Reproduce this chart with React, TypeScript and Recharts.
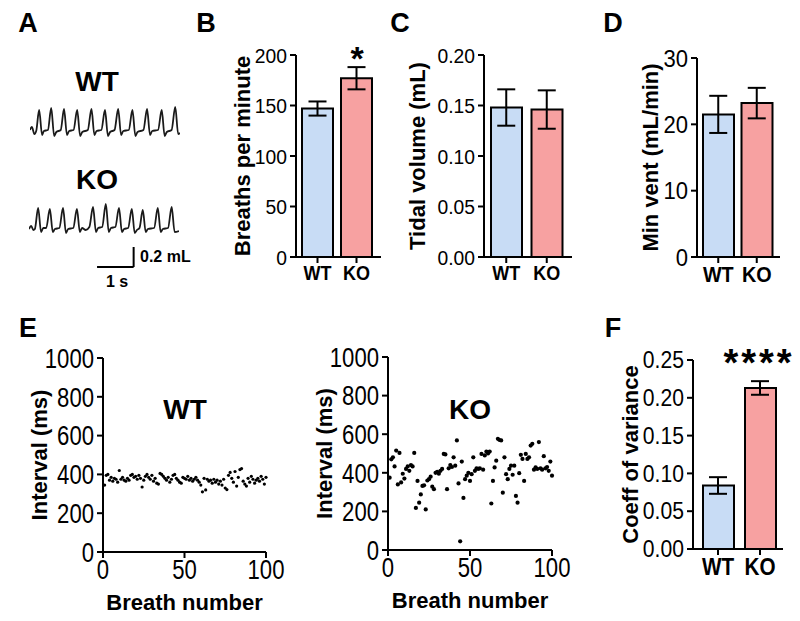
import React from 'react'
import {
  ComposedChart,
  Bar,
  Cell,
  Scatter,
  ErrorBar,
  XAxis,
  YAxis,
  ScatterChart,
  LineChart,
  Line,
  ReferenceLine,
} from 'recharts'

// ---- data ----
const groups = ['WT', 'KO']
const groupColors = ['#c8dcf5', '#f7a1a1']

const bpmMean = [147, 177]
const bpmSem = [7, 11]
const tidalMean = [0.148, 0.146]
const tidalSem = [0.018, 0.019]
const minVentMean = [21.5, 23.2]
const minVentSem = [2.8, 2.3]
const cvMean = [0.084, 0.213]
const cvSem = [0.011, 0.009]

// panel A traces: [time (s), volume (mL)]
const wtTrace = [
  [0.0, 0.02], [0.05, 0.05], [0.12, -0.02], [0.17, 0.01], [0.25, 0.22], [0.33, -0.03], [0.38, 0.01],
  [0.49, 0.02], [0.58, 0.24], [0.66, -0.04], [0.72, 0.0], [0.84, 0.02], [0.93, 0.23], [1.01, -0.03],
  [1.07, 0.01], [1.19, 0.02], [1.29, 0.22], [1.37, -0.04], [1.43, 0.0], [1.58, 0.02], [1.68, 0.23],
  [1.76, -0.03], [1.82, 0.01], [1.95, 0.02], [2.05, 0.22], [2.13, -0.04], [2.19, 0.0], [2.31, 0.02],
  [2.41, 0.23], [2.49, -0.03], [2.55, 0.01], [2.7, 0.02], [2.8, 0.22], [2.88, -0.04], [2.94, 0.0],
  [3.1, 0.02], [3.2, 0.23], [3.28, -0.03], [3.34, 0.01], [3.5, 0.02], [3.6, 0.22], [3.68, -0.04],
  [3.74, 0.0], [3.87, 0.02], [3.97, 0.25], [4.05, -0.02], [4.1, -0.01],
]
const koTrace = [
  [0.0, 0.01], [0.06, 0.04], [0.12, 0.0], [0.16, 0.01], [0.25, 0.22], [0.33, -0.02], [0.39, 0.02],
  [0.47, 0.02], [0.57, 0.21], [0.65, -0.02], [0.71, 0.01], [0.83, 0.02], [0.93, 0.22], [1.01, -0.03],
  [1.07, 0.01], [1.21, 0.02], [1.31, 0.21], [1.39, -0.02], [1.45, 0.02], [1.55, 0.0], [1.65, 0.03],
  [1.75, 0.23], [1.83, -0.02], [1.89, 0.02], [2.0, 0.03], [2.1, 0.26], [2.18, -0.02], [2.24, 0.02],
  [2.36, 0.03], [2.46, 0.22], [2.54, -0.02], [2.6, 0.01], [2.71, 0.02], [2.81, 0.21], [2.89, -0.03],
  [2.95, 0.0], [3.02, 0.02], [3.11, 0.2], [3.19, -0.02], [3.25, 0.01], [3.42, 0.02], [3.52, 0.22],
  [3.6, -0.02], [3.66, 0.01], [3.8, 0.02], [3.9, 0.23], [3.98, -0.02], [4.1, -0.01],
]

// panel E: breath-to-breath interval (ms), breaths 1..100
const wtIntervals = [
  345, 395, 400, 370, 385, 365, 380, 375, 360, 420, 375, 385, 370, 365, 380, 370, 395, 400, 385, 390,
  375, 395, 380, 335, 370, 390, 400, 385, 375, 395, 365, 380, 355, 350, 405, 400, 390, 380, 370, 385,
  360, 375, 395, 400, 380, 370, 360, 355, 385, 380, 375, 390, 370, 380, 365, 375, 385, 370, 360, 345,
  310, 380, 320, 375, 365, 370, 355, 375, 360, 370, 350, 365, 345, 375, 330, 322, 395, 410, 380, 360,
  415, 340, 385, 425, 430, 365, 350, 340, 380, 360, 390, 375, 355, 370, 380, 365, 390, 375, 350, 385,
]
const koIntervals = [
  375, 470, 480, 433, 515, 340, 503, 350, 395, 370, 420, 433, 410, 440, 433, 503, 218, 358, 245, 288,
  332, 335, 210, 360, 367, 380, 328, 315, 400, 405, 395, 410, 420, 498, 495, 315, 423, 440, 430, 480,
  437, 568, 345, 45, 458, 270, 367, 385, 400, 358, 393, 480, 410, 423, 420, 423, 498, 416, 490, 510,
  500, 510, 241, 358, 428, 463, 576, 570, 568, 297, 480, 393, 367, 420, 437, 390, 437, 280, 245, 398,
  493, 472, 358, 498, 472, 480, 541, 550, 416, 428, 420, 559, 423, 416, 486, 423, 430, 410, 458, 385,
]

const font = "'Liberation Sans', Arial, sans-serif"
const axisLine = { stroke: '#000', strokeWidth: 2 }
const titleStyle = { textAnchor: 'middle', fontFamily: font, fontWeight: 700, fontSize: 22, fill: '#000' }

// tick text squeezed horizontally, like the condensed face in the figure
function NarrowTick({ x, y, payload, textAnchor, axis, size, sx, weight, fmt }: any) {
  const label = fmt ? fmt(payload.value) : payload.value
  return (
    <g transform={`translate(${x},${y}) scale(${sx},1)`}>
      <text
        x={0}
        y={0}
        dy={axis === 'y' ? '0.36em' : '0.72em'}
        textAnchor={textAnchor}
        fill="#000"
        fontFamily={font}
        fontSize={size}
        fontWeight={weight}
      >
        {label}
      </text>
    </g>
  )
}

function barRows(mean: number[], sem: number[]) {
  return groups.map((g, i) => ({ group: g, mean: mean[i], sem: sem[i] }))
}

function Text({ x, y, size, children, anchor = 'middle', spacing = 0 }: any) {
  return (
    <div
      style={{
        position: 'absolute',
        left: anchor === 'middle' ? x - 100 : x,
        top: y - size * 0.6,
        width: anchor === 'middle' ? 200 : 'auto',
        textAlign: anchor === 'middle' ? 'center' : 'left',
        fontFamily: font,
        fontWeight: 700,
        fontSize: size,
        letterSpacing: spacing,
        lineHeight: `${size * 1.2}px`,
        color: '#000',
        whiteSpace: 'nowrap',
      }}
    >
      {children}
    </div>
  )
}

function BarPanel({
  left, top, width, height, yWidth, marginTop, rows, domain, ticks, fmt, label, labelOffset, padding, tickSize, catSize,
}: any) {
  return (
    <div style={{ position: 'absolute', left, top }}>
      <ComposedChart width={width} height={height} data={rows} margin={{ top: marginTop, right: 0, bottom: 0, left: 0 }}>
        <XAxis
          dataKey="group"
          axisLine={axisLine}
          tickLine={axisLine}
          tickSize={6}
          tickMargin={3}
          tick={(p: any) => <NarrowTick {...p} axis="x" size={catSize} sx={0.9} weight={700} />}
          height={34}
          padding={padding}
        />
        <YAxis
          width={yWidth}
          domain={domain}
          ticks={ticks}
          axisLine={axisLine}
          tickLine={axisLine}
          tickSize={6}
          tickMargin={3}
          tick={(p: any) => <NarrowTick {...p} axis="y" size={tickSize} sx={0.92} weight={400} fmt={fmt} />}
          interval={0}
          label={{ value: label, angle: -90, position: 'insideLeft', offset: labelOffset, style: titleStyle }}
        />
        <Bar dataKey="mean" barSize={31} stroke="#000" strokeWidth={2} isAnimationActive={false}>
          {rows.map((r: any, i: number) => (
            <Cell key={r.group} fill={groupColors[i]} />
          ))}
        </Bar>
        <Scatter dataKey="mean" isAnimationActive={false} shape={() => <g />}>
          <ErrorBar dataKey="sem" width={9} stroke="#000" strokeWidth={2} direction="y" />
        </Scatter>
      </ComposedChart>
    </div>
  )
}

function ScatterPanel({ left, top, width, height, data, r, labelOffset }: any) {
  return (
    <div style={{ position: 'absolute', left, top }}>
      <ScatterChart width={width} height={height} margin={{ top: 17, right: 20, bottom: 10, left: 0 }}>
        <XAxis
          type="number"
          dataKey="breath"
          domain={[0, 100]}
          ticks={[0, 50, 100]}
          axisLine={axisLine}
          tickLine={axisLine}
          tickSize={6}
          tickMargin={2}
          tick={(p: any) => <NarrowTick {...p} axis="x" size={27} sx={0.82} weight={400} />}
          height={60}
          label={{
            value: 'Breath number',
            position: 'insideBottom',
            offset: 2,
            style: { fontFamily: font, fontWeight: 700, fontSize: 22, fill: '#000' },
          }}
        />
        <YAxis
          type="number"
          dataKey="interval"
          width={93}
          domain={[0, 1000]}
          ticks={[0, 200, 400, 600, 800, 1000]}
          axisLine={axisLine}
          tickLine={axisLine}
          tickSize={6}
          tickMargin={3}
          tick={(p: any) => <NarrowTick {...p} axis="y" size={27} sx={0.82} weight={400} />}
          interval={0}
          label={{ value: 'Interval (ms)', angle: -90, position: 'insideLeft', offset: labelOffset, style: titleStyle }}
        />
        <Scatter
          data={data}
          isAnimationActive={false}
          shape={(p: any) => <circle cx={p.cx} cy={p.cy} r={r} fill="#000" />}
        />
      </ScatterChart>
    </div>
  )
}

function TracePanel({ left, top, height, data, domain, scaleBar }: any) {
  const rows = data.map(([t, v]: number[]) => ({ t, v }))
  return (
    <div style={{ position: 'absolute', left, top }}>
      <LineChart width={150} height={height} data={rows} margin={{ top: 0, right: 0, bottom: 0, left: 0 }}>
        <XAxis type="number" dataKey="t" domain={[0, 4.1]} hide />
        <YAxis type="number" domain={domain} hide />
        <Line
          dataKey="v"
          type="monotone"
          stroke="#1a1a1a"
          strokeWidth={1.8}
          dot={false}
          isAnimationActive={false}
        />
        {scaleBar && (
          <ReferenceLine
            segment={[{ x: 1.86, y: -0.37 }, { x: 2.86, y: -0.37 }]}
            stroke="#000"
            strokeWidth={2}
            ifOverflow="visible"
          />
        )}
        {scaleBar && (
          <ReferenceLine
            segment={[{ x: 2.86, y: -0.37 }, { x: 2.86, y: -0.17 }]}
            stroke="#000"
            strokeWidth={2}
            ifOverflow="visible"
          />
        )}
      </LineChart>
    </div>
  )
}

export default function App() {
  const wtPoints = wtIntervals.map((v, i) => ({ breath: i + 1, interval: v }))
  const koPoints = koIntervals.map((v, i) => ({ breath: i + 1, interval: v }))
  const f2 = (v: number) => v.toFixed(2)

  return (
    <div
      style={{
        position: 'absolute',
        left: 0,
        top: 0,
        width: 800,
        height: 621,
        background: '#fff',
        overflow: 'hidden',
      }}
    >
      {/* panel letters */}
      <Text x={28} y={23} size={27}>A</Text>
      <Text x={206} y={23} size={27}>B</Text>
      <Text x={400} y={23} size={27}>C</Text>
      <Text x={613} y={23} size={27}>D</Text>
      <Text x={28} y={328} size={27}>E</Text>
      <Text x={613} y={328} size={27}>F</Text>

      {/* A: raw traces */}
      <Text x={97} y={82} size={28}>WT</Text>
      <Text x={97} y={180} size={28}>KO</Text>
      <TracePanel left={30} top={100} height={40} data={wtTrace} domain={[-0.08, 0.32]} />
      <TracePanel left={29} top={200} height={70} data={koTrace} domain={[-0.4, 0.3]} scaleBar />
      <Text x={140} y={257} size={16} anchor="left">0.2 mL</Text>
      <Text x={117} y={282} size={16}>1 s</Text>

      {/* B-D: bars */}
      <BarPanel
        left={220} top={30} width={161} height={261} yWidth={76} marginTop={25}
        rows={barRows(bpmMean, bpmSem)} domain={[0, 200]} ticks={[0, 50, 100, 150, 200]}
        label="Breaths per minute" labelOffset={22} padding={{ left: 2, right: 5 }}
        tickSize={21} catSize={20}
      />
      <Text x={357} y={58} size={34}>*</Text>
      <BarPanel
        left={390} top={30} width={182} height={261} yWidth={94} marginTop={25}
        rows={barRows(tidalMean, tidalSem)} domain={[0, 0.2]} ticks={[0, 0.05, 0.1, 0.15, 0.2]} fmt={f2}
        label="Tidal volume (mL)" labelOffset={27} padding={{ left: 2, right: 5 }}
        tickSize={21} catSize={20}
      />
      <BarPanel
        left={620} top={30} width={160} height={261} yWidth={77} marginTop={28}
        rows={barRows(minVentMean, minVentSem)} domain={[0, 30]} ticks={[0, 10, 20, 30]}
        label="Min vent (mL/min)" labelOffset={30} padding={{ left: 2, right: 4 }}
        tickSize={24} catSize={22}
      />

      {/* E: intervals */}
      <Text x={185} y={410} size={28}>WT</Text>
      <Text x={470} y={410} size={28}>KO</Text>
      <ScatterPanel left={10} top={341} width={276} height={281} data={wtPoints} r={1.6} labelOffset={29} />
      <ScatterPanel left={295} top={340} width={277} height={280} data={koPoints} r={2.1} labelOffset={29} />

      {/* F: coefficient of variance */}
      <BarPanel
        left={600} top={340} width={183} height={243} yWidth={93} marginTop={20}
        rows={barRows(cvMean, cvSem)} domain={[0, 0.25]} ticks={[0, 0.05, 0.1, 0.15, 0.2, 0.25]} fmt={f2}
        label="Coeff of variance" labelOffset={30} padding={{ left: 4, right: 2 }}
        tickSize={23} catSize={23}
      />
      <Text x={759} y={364} size={38} spacing={3}>****</Text>
    </div>
  )
}
